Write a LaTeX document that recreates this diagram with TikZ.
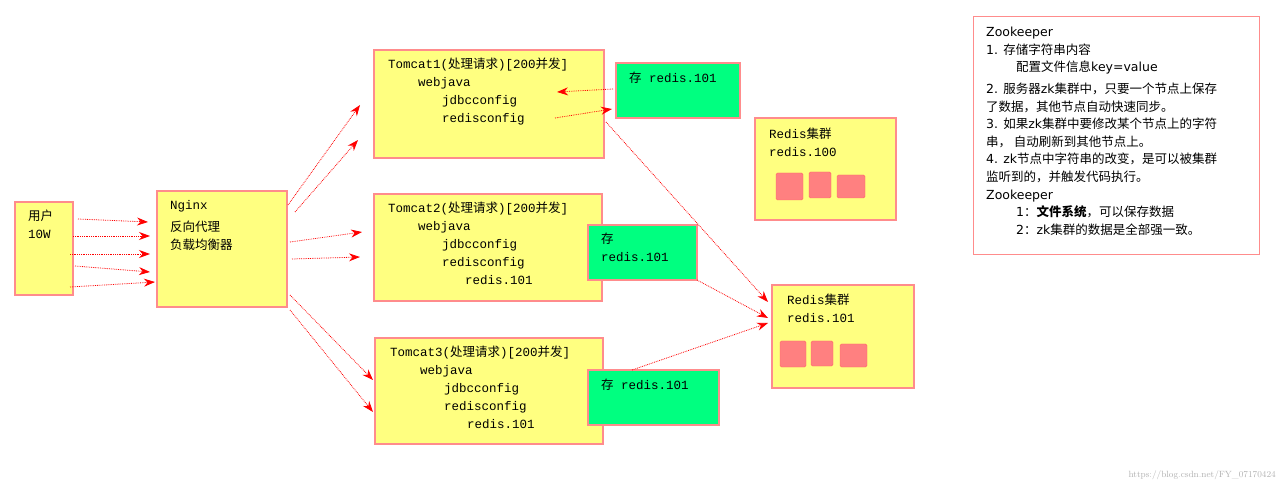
\documentclass[tikz,border=0pt]{standalone}
\usepackage{fontspec}
\setmonofont{Liberation Mono}
\newfontfamily\cjk{Noto Sans CJK SC}
\newfontfamily\zk{DejaVu Sans}
\usetikzlibrary{arrows.meta}
\definecolor{gfill}{RGB}{0,255,128}
\definecolor{yfill}{RGB}{255,255,128}
\newcommand{\C}[1]{{\cjk #1}}
\begin{document}
\begin{tikzpicture}[x=1pt,y=-1pt,
 box/.style={draw=red!45,line width=1.2pt,fill=yfill},
 grn/.style={draw=red!45,line width=1.2pt,fill=gfill},
 sq/.style={draw=red!60,fill=red!50,rounded corners=1.5pt},
 arr/.style={red,densely dotted,line width=0.8pt,-{Stealth[length=11pt,width=8pt]}},
 txt/.style={anchor=north west,font=\ttfamily\fontsize{12.5}{18}\selectfont,align=left,inner sep=0pt}]
\useasboundingbox (0,0) rectangle (1280,486);
\fill[white] (0,0) rectangle (1280,486);
% boxes
\draw[box] (15,202) rectangle (73,295);
\draw[box] (157,191) rectangle (287,307);
\draw[box] (374,50) rectangle (604,158);
\draw[box] (374,194) rectangle (602,301);
\draw[box] (375,338) rectangle (603,444);
\draw[box] (755,118) rectangle (896,220);
\draw[box] (772,285) rectangle (914,388);
\draw[grn] (616,63) rectangle (740,118);
\draw[grn] (588,225) rectangle (697,280);
\draw[grn] (588,370) rectangle (719,425);
\draw[draw=red!45,line width=1pt,fill=white] (973,17) rectangle (1259,255);
% squares
\draw[sq] (776,173) rectangle (803,200); \draw[sq] (809,172) rectangle (831,198); \draw[sq] (837,175) rectangle (865,198);
\draw[sq] (780,341) rectangle (806,367); \draw[sq] (811,341) rectangle (833,366); \draw[sq] (840,344) rectangle (867,367);
% texts
\node[txt] (tu) at (28,210) {\C{用户}\\10W};
\node[txt] (tn) at (170,200) {Nginx\\[4pt]\C{反向代理}\\\C{负载均衡器}};
\node[txt] (t1) at (388,58) {Tomcat1(\C{处理请求})[200\C{并发}]\\\hspace{30pt}webjava\\\hspace{54pt}jdbcconfig\\\hspace{54pt}redisconfig};
\node[txt] (t2) at (388,202) {Tomcat2(\C{处理请求})[200\C{并发}]\\\hspace{30pt}webjava\\\hspace{54pt}jdbcconfig\\\hspace{54pt}redisconfig\\\hspace{77pt}redis.101};
\node[txt] (t3) at (390,346) {Tomcat3(\C{处理请求})[200\C{并发}]\\\hspace{30pt}webjava\\\hspace{54pt}jdbcconfig\\\hspace{54pt}redisconfig\\\hspace{77pt}redis.101};
\node[txt] (g1) at (629,72) {\C{存} redis.101};
\node[txt] (g2) at (601,233) {\C{存}\\redis.101};
\node[txt] (g3) at (601,379) {\C{存} redis.101};
\node[txt] (r100) at (769,128) {Redis\C{集群}\\redis.100};
\node[txt] (r101) at (787,294) {Redis\C{集群}\\redis.101};
\node[txt,font=\zk\fontsize{12.5}{17.6}\selectfont] (zk) at (986,27) {Zookeeper\\
1. \C{存储字符串内容}\\
\hspace{30pt}\C{配置文件信息}key=value\\[4pt]
2. \C{服务器}zk\C{集群中，只要一个节点上保存}\\
\C{了数据，其他节点自动快速同步。}\\
3. \C{如果}zk\C{集群中要修改某个节点上的字符}\\
\C{串，\ 自动刷新到其他节点上。}\\
4. zk\C{节点中字符串的改变，是可以被集群}\\
\C{监听到的，并触发代码执行。}\\
Zookeeper\\
\hspace{30pt}1\C{：\textbf{文件系统}，可以保存数据}\\
\hspace{30pt}2\C{：}zk\C{集群的数据是全部强一致。}};
% connector coordinates
\foreach \n/\x/\y in {a1/78/219,b1/148/222,a2/73/236,b2/150/236,a3/70/254,b3/150/254,a4/75/266,b4/150/272,a5/70/287,b5/155/282,
 c1/288/205,d1/360/105,c2/295/212,d2/358/140,c3/290/242,d3/362/232,c4/292/259,d4/360/257,c5/290/295,d5/373/380,c6/290/310,d6/373/412,
 e1/613/89,f1/557/92,e2/555/118,f2/612/109,e3/606/122,f3/768/302,e4/697/280,f4/768/318,e5/632/370,f5/768/323}
 {\coordinate (\n) at (\x,\y);}
\foreach \i in {1,...,5} {\draw[arr] (a\i) -- (b\i);}
\foreach \i in {1,...,6} {\draw[arr] (c\i) -- (d\i);}
\foreach \i in {1,...,5} {\draw[arr] (e\i) -- (f\i);}
\node[anchor=south east,font=\fontsize{9}{9}\selectfont,text=gray!60,inner sep=2pt] (wm) at (1278,482) {https://blog.csdn.net/FY\_07170424};
\end{tikzpicture}
\end{document}
